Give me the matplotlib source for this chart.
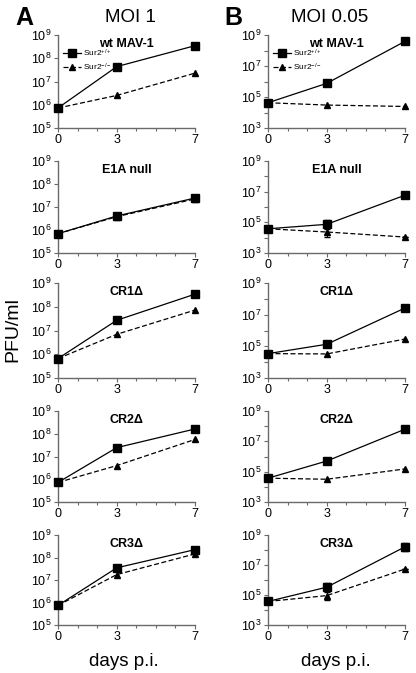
import numpy as np
import matplotlib.pyplot as plt
from matplotlib.ticker import FixedLocator, NullFormatter, FuncFormatter

plt.rcParams['font.family'] = ['Liberation Sans', 'DejaVu Sans']
plt.rcParams['mathtext.fontset'] = 'custom'
plt.rcParams['mathtext.rm'] = 'Liberation Sans'
plt.rcParams['mathtext.it'] = 'Liberation Sans:italic'
plt.rcParams['mathtext.bf'] = 'Liberation Sans:bold'

days = [0, 3, 7]
viruses = ['wt MAV-1', 'E1A null', 'CR1Δ', 'CR2Δ', 'CR3Δ']

# log10 PFU/ml, MOI 1  (Sur2+/+, Sur2-/-)
moi1 = {
    'wt MAV-1': ([5.86, 7.64, 8.54], [5.86, 6.40, 7.36]),
    'E1A null': ([5.84, 6.61, 7.39], [5.84, 6.58, 7.35]),
    'CR1Δ': ([5.82, 7.43, 8.53], [5.82, 6.84, 7.86]),
    'CR2Δ': ([5.86, 7.39, 8.21], [5.86, 6.60, 7.75]),
    'CR3Δ': ([5.87, 7.54, 8.35], [5.87, 7.24, 8.16]),
}
# log10 PFU/ml, MOI 0.05
moi005 = {
    'wt MAV-1': ([4.63, 5.88, 8.59], [4.63, 4.48, 4.39]),
    'E1A null': ([4.58, 4.87, 6.77], [4.58, 4.37, 4.04]),
    'CR1Δ': ([4.54, 5.13, 7.42], [4.54, 4.52, 5.46]),
    'CR2Δ': ([4.57, 5.70, 7.80], [4.57, 4.50, 5.18]),
    'CR3Δ': ([4.57, 5.52, 8.21], [4.57, 4.96, 6.73]),
}
# error bars (log10 units), MOI 0.05
err005 = {
    'E1A null': ([0, 0.3, 0], [0, 0.35, 0]),
    'CR3Δ': ([0, 0.3, 0.25], [0, 0.3, 0]),
}

fig = plt.figure(figsize=(4.16, 6.73), dpi=100)
W, H = 416, 673
tops = [35, 161, 283, 411, 535]
bots = [128, 253, 378, 502, 625]
cols = [(58, 195), (268, 405)]
spine_c = '#6a6a6a'


def style(ax, ymin, ymax, odd_only):
    ax.set_yscale('log')
    ax.set_ylim(10.0 ** ymin, 10.0 ** ymax)
    ax.set_xlim(0, 7)
    for s in ['top', 'right']:
        ax.spines[s].set_visible(False)
    for s in ['left', 'bottom']:
        ax.spines[s].set_color(spine_c)
        ax.spines[s].set_linewidth(1.0)
    ax.xaxis.set_major_locator(FixedLocator([0, 3, 7]))
    ax.xaxis.set_minor_locator(FixedLocator([1, 2, 4, 5, 6]))
    exps = list(range(ymin, ymax + 1))
    if odd_only:
        ax.yaxis.set_major_locator(FixedLocator([10.0 ** e for e in exps if e % 2 == 1]))
        ax.yaxis.set_minor_locator(FixedLocator([10.0 ** e for e in exps if e % 2 == 0]))
    else:
        ax.yaxis.set_major_locator(FixedLocator([10.0 ** e for e in exps]))
        ax.yaxis.set_minor_locator(FixedLocator([]))
    ax.yaxis.set_minor_formatter(NullFormatter())
    ax.yaxis.set_major_formatter(FuncFormatter(lambda v, p: r'$10^{%d}$' % round(np.log10(v))))
    ax.tick_params(axis='both', which='both', direction='out', color=spine_c,
                   length=3, width=0.8, labelsize=9, pad=1.5)
    ax.tick_params(axis='x', which='minor', length=2)


for ci, (data, ymin, ymax) in enumerate([(moi1, 5, 9), (moi005, 3, 9)]):
    x0, x1 = cols[ci]
    for ri, v in enumerate(viruses):
        ax = fig.add_axes([x0 / W, 1 - bots[ri] / H, (x1 - x0) / W, (bots[ri] - tops[ri]) / H])
        style(ax, ymin, ymax, ci == 1)
        wt, ko = data[v]
        wt_v = 10.0 ** np.array(wt)
        ko_v = 10.0 ** np.array(ko)
        if ci == 1 and v in err005:
            e_wt, e_ko = err005[v]
            ax.errorbar(days, wt_v, yerr=[wt_v - wt_v / 10 ** np.array(e_wt), wt_v * 10 ** np.array(e_wt) - wt_v],
                        fmt='none', ecolor='black', elinewidth=0.8, capsize=2.5, clip_on=False)
            ax.errorbar(days, ko_v, yerr=[ko_v - ko_v / 10 ** np.array(e_ko), ko_v * 10 ** np.array(e_ko) - ko_v],
                        fmt='none', ecolor='black', elinewidth=0.8, capsize=2.5, clip_on=False)
        ax.plot(days, ko_v, '--', color='black', lw=0.9, marker='^', ms=5, dashes=(4, 2),
                label='Sur2$^{-/-}$', clip_on=False, zorder=3)
        ax.plot(days, wt_v, '-', color='black', lw=0.9, marker='s', ms=5.5,
                label='Sur2$^{+/+}$', clip_on=False, zorder=4)
        ax.text(0.5, 0.97, v, transform=ax.transAxes, ha='center', va='top',
                fontsize=9, fontweight='bold')
        if ri == 0:
            h, l = ax.get_legend_handles_labels()
            ax.legend(h[::-1], l[::-1], loc='upper left', bbox_to_anchor=(0.0, 0.92),
                      frameon=False, fontsize=6, handlelength=2.2, handletextpad=0.2,
                      borderaxespad=0.2, labelspacing=0.3)

fig.text(24 / W, 1 - 18 / H, 'A', fontsize=18, fontweight='bold', ha='center', va='center')
fig.text(130 / W, 1 - 18 / H, 'MOI 1', fontsize=13.5, ha='center', va='center')
fig.text(233 / W, 1 - 18 / H, 'B', fontsize=18, fontweight='bold', ha='center', va='center')
fig.text(330 / W, 1 - 18 / H, 'MOI 0.05', fontsize=13.5, ha='center', va='center')
fig.text(13 / W, 1 - 330 / H, 'PFU/ml', fontsize=14, rotation=90, ha='center', va='center')
fig.text(124 / W, 1 - 661 / H, 'days p.i.', fontsize=13.5, ha='center', va='center')
fig.text(336 / W, 1 - 661 / H, 'days p.i.', fontsize=13.5, ha='center', va='center')

fig.savefig('out.png', dpi=100)
